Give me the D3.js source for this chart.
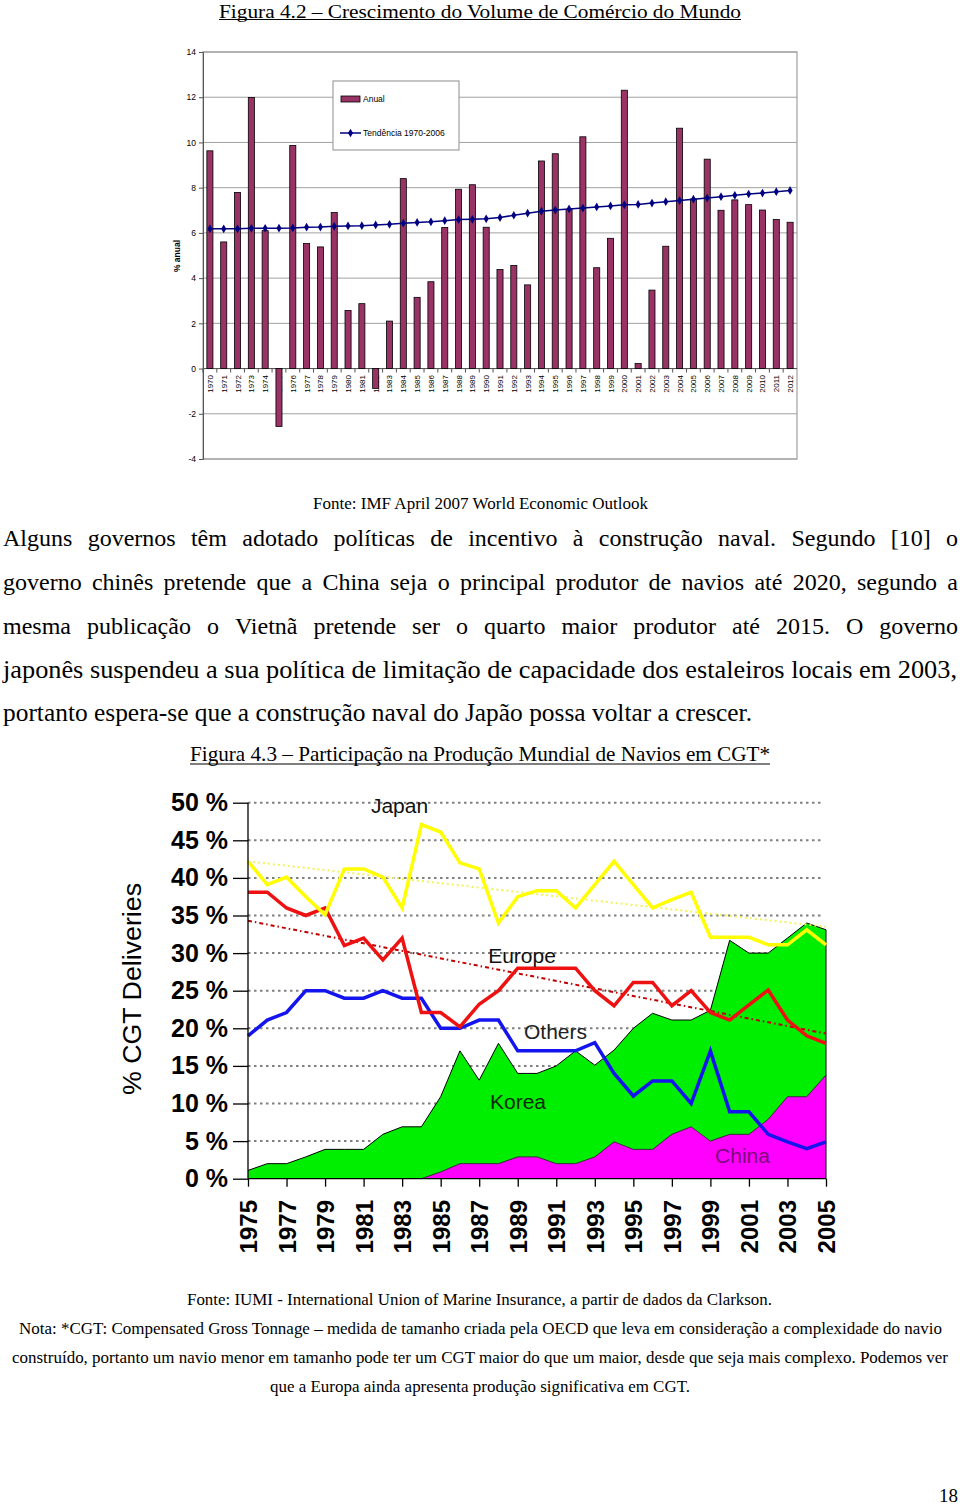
<!DOCTYPE html>
<html><head><meta charset="utf-8">
<script src="https://cdn.jsdelivr.net/npm/d3@7"></script>
<style>body{margin:0;background:#fff} svg{display:block}</style>
</head><body>
<svg id="page" width="960" height="1505"></svg>
<script>
// ---------- Figure 4.2 data ----------
const tradeYears = ["1970","1971","1972","1973","1974","1975","1976","1977","1978","1979",
  "1980","1981","1982","1983","1984","1985","1986","1987","1988","1989",
  "1990","1991","1992","1993","1994","1995","1996","1997","1998","1999",
  "2000","2001","2002","2003","2004","2005","2006","2007","2008","2009",
  "2010","2011","2012"];
const tradeAnnual = [9.63,5.6,7.79,11.99,6.1,-2.56,9.87,5.53,5.38,6.9,
  2.57,2.87,-0.88,2.1,8.4,3.15,3.84,6.24,7.93,8.13,
  6.25,4.38,4.56,3.7,9.18,9.5,7.04,10.25,4.46,5.76,
  12.31,0.22,3.47,5.41,10.63,7.5,9.26,7.0,7.46,7.25,
  7.01,6.59,6.47];
const tradeTrend = [6.18,6.18,6.18,6.2,6.2,6.21,6.22,6.25,6.26,6.29,
  6.31,6.32,6.35,6.38,6.43,6.46,6.49,6.54,6.59,6.6,
  6.62,6.68,6.78,6.87,6.96,7.01,7.06,7.1,7.15,7.19,
  7.24,7.26,7.32,7.38,7.43,7.49,7.54,7.6,7.66,7.72,
  7.76,7.82,7.88];
const tradeTicks = [-4,-2,0,2,4,6,8,10,12,14];

// ---------- Figure 4.3 data ----------
const cgtYears = [1975,1976,1977,1978,1979,1980,1981,1982,1983,1984,1985,1986,1987,1988,1989,
  1990,1991,1992,1993,1994,1995,1996,1997,1998,1999,2000,2001,2002,2003,2004,2005];
const japan = [42.2,39.1,40.1,37.5,35.1,41.2,41.2,40.1,36.0,47.1,46.1,42.0,41.2,34.0,37.5,
  38.3,38.3,36.0,39.1,42.2,39.1,36.0,37.1,38.1,32.1,32.1,32.1,31.1,31.1,33.1,31.1];
const europe = [38.1,38.1,36.0,35.0,36.0,31.0,32.0,29.1,32.0,22.1,22.1,20.2,23.2,25.0,28.0,
  28.0,28.0,28.0,25.0,23.0,26.1,26.1,23.0,25.0,22.1,21.1,23.1,25.1,21.1,19.0,18.0];
const others = [19.0,21.1,22.1,25.0,25.0,24.0,24.0,25.0,24.0,24.0,20.0,20.0,21.1,21.1,17.0,
  17.0,17.0,17.0,18.1,14.0,11.0,13.0,13.0,10.0,17.0,8.9,8.9,5.9,4.9,4.0,4.9];
const korea = [1.1,2.0,2.0,2.9,3.9,3.9,3.9,5.9,6.9,6.9,10.0,15.0,11.1,16.0,11.1,
  11.1,13.0,15.0,12.2,12.2,16.1,18.1,15.2,14.2,17.4,25.8,24.1,22.1,21.1,23.1,19.3];
const china = [0,0,0,0,0,0,0,0,0,0,0.9,2.0,2.0,2.0,2.9,
  2.9,2.0,2.0,2.9,4.9,3.9,3.9,5.9,6.9,5.0,5.9,5.9,7.9,10.9,10.9,13.8];
const trendYears = [1975, 2005];
const japanTrend = [42.2, 33.5];
const europeTrend = [34.3, 19.3];
const cgtTicks = [0,5,10,15,20,25,30,35,40,45,50];
const cgtLabelYears = [1975,1977,1979,1981,1983,1985,1987,1989,1991,1993,1995,1997,1999,2001,2003,2005];

// ---------- helpers ----------
const svg = d3.select('#page');
svg.append('rect').attr('width',960).attr('height',1505).attr('fill','#fff');
const SERIF = "'Liberation Serif','Times New Roman',serif";
const SANS = "'Liberation Sans',Arial,sans-serif";

function fitLine(str, x0, x1, y, size, family, opts={}) {
  const t = svg.append('text').attr('x', x0).attr('y', y)
    .style('font-family', family).style('font-size', size+'px')
    .attr('fill', opts.fill || '#000').text(str);
  t.attr('textLength', x1 - x0).attr('lengthAdjust', 'spacingAndGlyphs');
  if (opts.underline) {
    svg.append('line').attr('x1', x0).attr('x2', x1)
      .attr('y1', y + opts.underline).attr('y2', y + opts.underline)
      .attr('stroke', '#000').attr('stroke-width', 1.2);
  }
  return t;
}
function justifyLine(str, x0, x1, y, size, family) {
  const words = str.split(' ');
  const widths = words.map(w => {
    const tmp = svg.append('text').style('font-family', family).style('font-size', size+'px').text(w);
    const wd = tmp.node().getComputedTextLength(); tmp.remove(); return wd;
  });
  const gap = (x1 - x0 - d3.sum(widths)) / (words.length - 1);
  const t = svg.append('text').attr('y', y).style('font-family', family).style('font-size', size+'px');
  let x = x0;
  words.forEach((w, i) => {
    t.append('tspan').attr('x', x).text(i < words.length - 1 ? w + ' ' : w);
    x += widths[i] + gap;
  });
}

// ---------- Page texts ----------
fitLine('Figura 4.2 – Crescimento do Volume de Comércio do Mundo', 219, 741, 17.5, 19, SERIF, {underline: 2});
fitLine('Fonte: IMF April 2007 World Economic Outlook', 313, 648, 509, 16.5, SERIF);
justifyLine('Alguns governos têm adotado políticas de incentivo à construção naval. Segundo [10] o', 3, 958, 546, 24, SERIF);
justifyLine('governo chinês pretende que a China seja o principal produtor de navios até 2020, segundo a', 3, 958, 590, 24, SERIF);
justifyLine('mesma publicação o Vietnã pretende ser o quarto maior produtor até 2015. O governo', 3, 958, 634, 24, SERIF);
fitLine('japonês suspendeu a sua política de limitação de capacidade dos estaleiros locais em 2003,', 3, 957, 678, 26, SERIF);
fitLine('portanto espera-se que a construção naval do Japão possa voltar a crescer.', 3, 752, 721, 26, SERIF);
fitLine('Figura 4.3 – Participação na Produção Mundial de Navios em CGT*', 190, 770, 761, 21, SERIF, {underline: 3});
fitLine('Fonte: IUMI - International Union of Marine Insurance, a partir de dados da Clarkson.', 187, 772, 1305, 17, SERIF);
fitLine('Nota: *CGT: Compensated Gross Tonnage – medida de tamanho criada pela OECD que leva em consideração a complexidade do navio', 19, 942, 1334, 17, SERIF);
fitLine('construído, portanto um navio menor em tamanho pode ter um CGT maior do que um maior, desde que seja mais complexo. Podemos ver', 12, 948, 1363, 17, SERIF);
fitLine('que a Europa ainda apresenta produção significativa em CGT.', 270, 690, 1392, 17, SERIF);
svg.append('text').attr('x', 958).attr('y', 1502).attr('text-anchor', 'end')
  .style('font-family', SERIF).style('font-size', '19px').text('18');

// ---------- Figure 4.2 chart ----------
const g1 = svg.append('g');
const x1 = d3.scaleBand().domain(tradeYears).range([203, 797]).paddingInner(0.56).paddingOuter(0.28);
const y1 = d3.scaleLinear().domain([-4, 14]).range([459, 52]);
const step = x1.step();

g1.selectAll('line.grid').data(tradeTicks).join('line').attr('class', 'grid')
  .attr('x1', 203).attr('x2', 797).attr('y1', d => y1(d)).attr('y2', d => y1(d))
  .attr('stroke', '#a0a0a0').attr('stroke-width', 1);
g1.append('rect').attr('x', 203).attr('y', y1(14)).attr('width', 594).attr('height', y1(-4) - y1(14))
  .attr('fill', 'none').attr('stroke', '#a0a0a0').attr('stroke-width', 1.2);

// y axis
const yAx1 = g1.append('g').attr('transform', 'translate(203,0)')
  .call(d3.axisLeft(y1).tickValues(tradeTicks).tickSize(4).tickPadding(3).tickFormat(d => String(d)));
yAx1.selectAll('path,line').attr('stroke', '#555');
yAx1.selectAll('text').style('font-family', SANS).style('font-size', '8.5px').attr('fill', '#000');

// category labels
g1.selectAll('text.cat').data(tradeYears).join('text').attr('class', 'cat')
  .attr('transform', d => `translate(${x1(d) + x1.bandwidth()/2 + 3},375) rotate(-90)`)
  .attr('text-anchor', 'end').style('font-family', SANS).style('font-size', '8px').text(d => d);

// zero axis with ticks between categories
g1.append('line').attr('x1', 203).attr('x2', 797).attr('y1', y1(0)).attr('y2', y1(0))
  .attr('stroke', '#555').attr('stroke-width', 1);
g1.selectAll('line.xt').data(tradeYears).join('line').attr('class', 'xt')
  .attr('x1', d => x1(d) - step*0.28).attr('x2', d => x1(d) - step*0.28)
  .attr('y1', y1(0)).attr('y2', y1(0) + 4).attr('stroke', '#555');

// bars
g1.selectAll('rect.bar').data(tradeAnnual).join('rect').attr('class', 'bar')
  .attr('x', (d, i) => x1(tradeYears[i]))
  .attr('width', x1.bandwidth())
  .attr('y', d => y1(Math.max(0, d)))
  .attr('height', d => Math.abs(y1(d) - y1(0)))
  .attr('fill', '#993366').attr('stroke', '#000').attr('stroke-width', 0.8);

// trend line
const trendLine = d3.line().x((d, i) => x1(tradeYears[i]) + x1.bandwidth()/2).y(d => y1(d));
g1.append('path').datum(tradeTrend).attr('d', trendLine).attr('fill', 'none')
  .attr('stroke', '#000080').attr('stroke-width', 1.5);
g1.selectAll('path.mk').data(tradeTrend).join('path').attr('class', 'mk')
  .attr('transform', (d, i) => `translate(${x1(tradeYears[i]) + x1.bandwidth()/2},${y1(d)})`)
  .attr('d', d3.symbol(d3.symbolDiamond, 22)).attr('fill', '#000080');

// y title
g1.append('text').attr('transform', 'translate(180,256) rotate(-90)').attr('text-anchor', 'middle')
  .style('font-family', SANS).style('font-size', '8.5px').style('font-weight', 'bold').text('% anual');

// legend
const lg = g1.append('g');
lg.append('rect').attr('x', 333).attr('y', 81).attr('width', 126).attr('height', 69)
  .attr('fill', '#fff').attr('stroke', '#a0a0a0').attr('stroke-width', 1.2);
lg.append('rect').attr('x', 341).attr('y', 96).attr('width', 19).attr('height', 6)
  .attr('fill', '#993366').attr('stroke', '#000').attr('stroke-width', 0.8);
lg.append('text').attr('x', 363).attr('y', 102).style('font-family', SANS).style('font-size', '8.5px').text('Anual');
lg.append('line').attr('x1', 340).attr('x2', 361).attr('y1', 133).attr('y2', 133)
  .attr('stroke', '#000080').attr('stroke-width', 1.5);
lg.append('path').attr('transform', 'translate(350.5,133)').attr('d', d3.symbol(d3.symbolDiamond, 22)).attr('fill', '#000080');
lg.append('text').attr('x', 363).attr('y', 136).style('font-family', SANS).style('font-size', '8.5px').text('Tendência 1970-2006');

// ---------- Figure 4.3 chart ----------
const g2 = svg.append('g');
const x2 = d3.scaleLinear().domain([1975, 2005]).range([248, 826]);
const y2 = d3.scaleLinear().domain([0, 50]).range([1178.7, 802.7]);

g2.selectAll('line.grid').data(cgtTicks.filter(d => d > 0)).join('line').attr('class', 'grid')
  .attr('x1', 248).attr('x2', 822).attr('y1', d => y2(d)).attr('y2', d => y2(d))
  .attr('stroke', '#808080').attr('stroke-width', 2).attr('stroke-dasharray', '2.5,3.5');

const table = cgtYears.map((yr, i) => ({year: yr, china: china[i], korea: korea[i]}));
const stacked = d3.stack().keys(['china', 'korea'])(table);
const area = d3.area().x(d => x2(d.data.year)).y0(d => y2(d[0])).y1(d => y2(d[1]));
const topLine = d3.line().x(d => x2(d.data.year)).y(d => y2(d[1]));
const kLayer = stacked[1], cLayer = stacked[0];
g2.append('path').datum(kLayer).attr('d', d3.area().x(d => x2(d.data.year)).y0(y2(0)).y1(d => y2(d[1])))
  .attr('fill', '#00ee00');
g2.append('path').datum(cLayer).attr('d', area).attr('fill', '#ff00ff');
g2.append('path').datum(kLayer).attr('d', topLine).attr('fill', 'none').attr('stroke', '#000').attr('stroke-width', 1);
g2.append('path').datum(cLayer.filter((d, i) => cgtYears[i] >= 1984)).attr('d', topLine)
  .attr('fill', 'none').attr('stroke', '#333').attr('stroke-width', 1);
g2.append('line').attr('x1', x2(2005)).attr('x2', x2(2005)).attr('y1', y2(0)).attr('y2', y2(korea[korea.length-1] + china[china.length-1]))
  .attr('stroke', '#000').attr('stroke-width', 1);

// trend lines
const tLine = d3.line().x((d, i) => x2(trendYears[i])).y(d => y2(d));
g2.append('path').datum(japanTrend).attr('d', tLine).attr('fill', 'none')
  .attr('stroke', '#f2f25a').attr('stroke-width', 2).attr('stroke-dasharray', '2,3');
g2.append('path').datum(europeTrend).attr('d', tLine).attr('fill', 'none')
  .attr('stroke', '#c00000').attr('stroke-width', 2).attr('stroke-dasharray', '4,3,1.5,3');

// series lines
const sLine = d3.line().x((d, i) => x2(cgtYears[i])).y(d => y2(d));
[[others, '#1414ee'], [europe, '#ee1111'], [japan, '#ffff00']].forEach(([arr, col]) => {
  g2.append('path').datum(arr).attr('d', sLine).attr('fill', 'none')
    .attr('stroke', col).attr('stroke-width', 3.5).attr('stroke-linejoin', 'miter');
});

// axes
const yAx2 = g2.append('g').attr('transform', 'translate(248,0)')
  .call(d3.axisLeft(y2).tickValues(cgtTicks).tickSize(15).tickPadding(5).tickFormat(d => d + ' %'));
yAx2.selectAll('path,line').attr('stroke', '#000').attr('stroke-width', 1.3);
yAx2.selectAll('text').style('font-family', SANS).style('font-size', '25px').style('font-weight', 'bold').attr('fill', '#000');
yAx2.select('.domain').attr('d', `M0,${y2(50)}V${y2(0)}`);

const xAx2 = g2.append('g').attr('transform', `translate(0,${y2(0)})`)
  .call(d3.axisBottom(x2).tickValues(cgtLabelYears).tickSize(8).tickFormat(''));
xAx2.selectAll('path,line').attr('stroke', '#000').attr('stroke-width', 1.3);
xAx2.select('.domain').attr('d', `M${x2(1975)},0H${x2(2005)}`);
g2.selectAll('text.xl').data(cgtLabelYears).join('text').attr('class', 'xl')
  .attr('transform', d => `translate(${x2(d) + 9},1200) rotate(-90)`)
  .attr('text-anchor', 'end').style('font-family', SANS).style('font-size', '24px').style('font-weight', 'bold')
  .text(d => d);

// y title
g2.append('text').attr('transform', 'translate(141,989) rotate(-90)').attr('text-anchor', 'middle')
  .style('font-family', SANS).style('font-size', '26px').attr('textLength', 212).attr('lengthAdjust', 'spacingAndGlyphs')
  .text('% CGT Deliveries');

// series labels
const labels = [
  ['Japan', 399.5, 813, '#111'], ['Europe', 522, 963, '#111'], ['Others', 555.5, 1039, '#222'],
  ['Korea', 518, 1109, '#0b2a0b'], ['China', 742.5, 1163, '#7a0a7a']
];
labels.forEach(([t, x, y, c]) => {
  g2.append('text').attr('x', x).attr('y', y).attr('text-anchor', 'middle')
    .style('font-family', SANS).style('font-size', '21px').attr('fill', c).text(t);
});
</script>
</body></html>
